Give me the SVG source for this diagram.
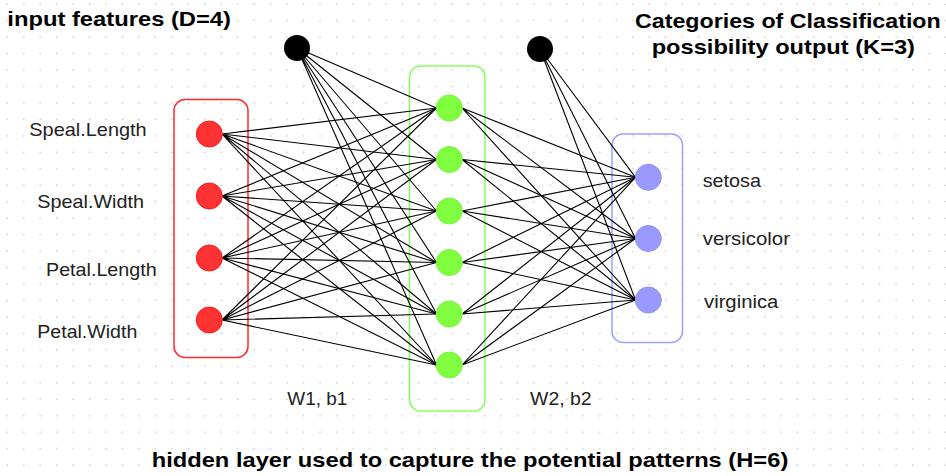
<svg xmlns="http://www.w3.org/2000/svg" width="946" height="476" viewBox="0 0 946 476">
<defs>
<pattern id="grid" patternUnits="userSpaceOnUse" x="0" y="0" width="16.46" height="16.46">
<circle cx="7.3" cy="4.3" r="0.8" fill="#c4c4c4"/>
</pattern>
<style>
.t{font-family:"Liberation Sans",Arial,sans-serif;font-size:21px;font-weight:bold;fill:#000}
.l{font-family:"Liberation Sans",Arial,sans-serif;font-size:18.5px;fill:#222}
.in{fill:#FF3333;stroke:#FF1A1A;stroke-width:1}
.hid{fill:#80FF40;stroke:#77F535;stroke-width:1}
.out{fill:#9999FF;stroke:#9090F5;stroke-width:1}
.bias{fill:#000}
.edge{stroke:#000;stroke-width:1.1;fill:none}
</style>
</defs>
<rect width="946" height="476" fill="#fff"/>
<rect width="946" height="476" fill="url(#grid)"/>

<g id="input-layer-box"><rect x="174" y="99.5" width="74" height="258" rx="11" fill="none" stroke="#FF2A2A" stroke-width="1.5"/></g>
<g id="hidden-layer-box"><rect x="409.5" y="66" width="75.5" height="345" rx="11" fill="none" stroke="#86FF5A" stroke-width="1.5"/></g>
<g id="output-layer-box"><rect x="612" y="134" width="70.5" height="208.5" rx="11" fill="none" stroke="#A0A0FF" stroke-width="1.5"/></g>

<g id="connectors" class="edge">
<!-- input to hidden -->
<path d="M222,134L436.5,108M222,134L436.5,159.5M222,134L436.5,211M222,134L436.5,262.5M222,134L436.5,314M222,134L436.5,365"/>
<path d="M222,196L436.5,108M222,196L436.5,159.5M222,196L436.5,211M222,196L436.5,262.5M222,196L436.5,314M222,196L436.5,365"/>
<path d="M222,258L436.5,108M222,258L436.5,159.5M222,258L436.5,211M222,258L436.5,262.5M222,258L436.5,314M222,258L436.5,365"/>
<path d="M222,320L436.5,108M222,320L436.5,159.5M222,320L436.5,211M222,320L436.5,262.5M222,320L436.5,314M222,320L436.5,365"/>
<!-- bias1 to hidden -->
<path d="M297,48L436.5,108M297,48L436.5,159.5M297,48L436.5,211M297,48L436.5,262.5M297,48L436.5,314M297,48L436.5,365"/>
<!-- hidden to output -->
<path d="M462,108L635.5,177.3M462,108L635.5,238.5M462,108L635.5,300"/>
<path d="M462,159.5L635.5,177.3M462,159.5L635.5,238.5M462,159.5L635.5,300"/>
<path d="M462,211L635.5,177.3M462,211L635.5,238.5M462,211L635.5,300"/>
<path d="M462,262.5L635.5,177.3M462,262.5L635.5,238.5M462,262.5L635.5,300"/>
<path d="M462,314L635.5,177.3M462,314L635.5,238.5M462,314L635.5,300"/>
<path d="M462,365L635.5,177.3M462,365L635.5,238.5M462,365L635.5,300"/>
<!-- bias2 to output -->
<path d="M540,49L635.5,177.3M540,49L635.5,238.5M540,49L635.5,300"/>
</g>

<g id="bias1"><circle class="bias" cx="297" cy="48" r="13"/></g>
<g id="bias2"><circle class="bias" cx="540" cy="49" r="13"/></g>

<g id="in1"><circle class="in" cx="209.3" cy="134" r="13"/></g>
<g id="in2"><circle class="in" cx="209.3" cy="196" r="13"/></g>
<g id="in3"><circle class="in" cx="209.3" cy="258" r="13"/></g>
<g id="in4"><circle class="in" cx="209.3" cy="320" r="13"/></g>

<g id="h1"><circle class="hid" cx="449.3" cy="108" r="13"/></g>
<g id="h2"><circle class="hid" cx="449.3" cy="159.5" r="13"/></g>
<g id="h3"><circle class="hid" cx="449.3" cy="211" r="13"/></g>
<g id="h4"><circle class="hid" cx="449.3" cy="262.5" r="13"/></g>
<g id="h5"><circle class="hid" cx="449.3" cy="314" r="13"/></g>
<g id="h6"><circle class="hid" cx="449.3" cy="365" r="13"/></g>

<g id="o1"><circle class="out" cx="648.3" cy="177.3" r="13"/></g>
<g id="o2"><circle class="out" cx="648.3" cy="238.5" r="13"/></g>
<g id="o3"><circle class="out" cx="648.3" cy="300" r="13"/></g>

<g id="labels">
<text class="t" x="7.3" y="26" textLength="223.7" lengthAdjust="spacingAndGlyphs">input features (D=4)</text>
<text class="t" x="635" y="28.3" textLength="305.7" lengthAdjust="spacingAndGlyphs">Categories of Classification</text>
<text class="t" x="651.7" y="53.5" textLength="263.3" lengthAdjust="spacingAndGlyphs">possibility output (K=3)</text>
<text class="t" x="151.7" y="467" textLength="636.6" lengthAdjust="spacingAndGlyphs">hidden layer used to capture the potential patterns (H=6)</text>
<text class="l" x="29.3" y="136" textLength="117.4" lengthAdjust="spacingAndGlyphs">Speal.Length</text>
<text class="l" x="37.3" y="208.3" textLength="106.7" lengthAdjust="spacingAndGlyphs">Speal.Width</text>
<text class="l" x="46" y="276" textLength="110.7" lengthAdjust="spacingAndGlyphs">Petal.Length</text>
<text class="l" x="37.3" y="338.3" textLength="100" lengthAdjust="spacingAndGlyphs">Petal.Width</text>
<text class="l" x="702.7" y="186.7" textLength="58.3" lengthAdjust="spacingAndGlyphs">setosa</text>
<text class="l" x="702.7" y="245" textLength="87.3" lengthAdjust="spacingAndGlyphs">versicolor</text>
<text class="l" x="704" y="308" textLength="74.3" lengthAdjust="spacingAndGlyphs">virginica</text>
<text class="l" x="287.3" y="405" textLength="60" lengthAdjust="spacingAndGlyphs">W1, b1</text>
<text class="l" x="530" y="405" textLength="61.7" lengthAdjust="spacingAndGlyphs">W2, b2</text>
</g>
</svg>
